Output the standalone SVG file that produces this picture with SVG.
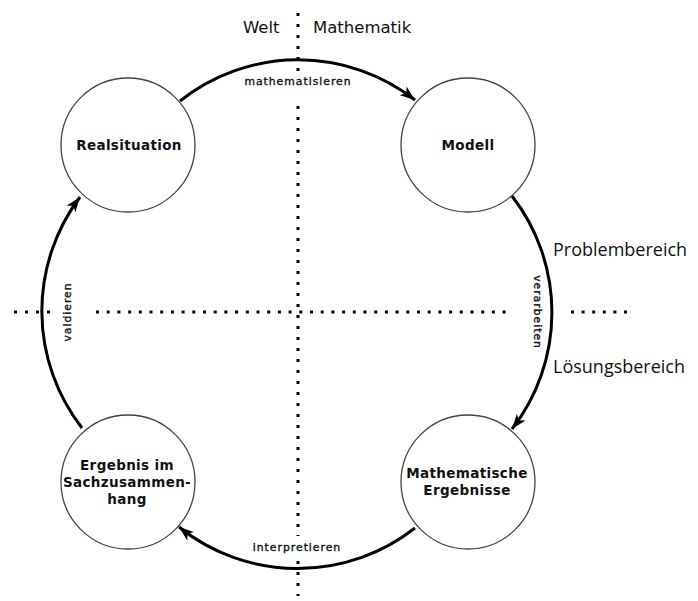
<svg xmlns="http://www.w3.org/2000/svg" width="698" height="601" viewBox="0 0 698 601">
<defs>
<style>
.node circle{fill:#fff;stroke:#444;stroke-width:1.3}
.node text{font-family:"DejaVu Sans",sans-serif;font-weight:bold;font-size:13.5px;letter-spacing:0.35px;fill:#111;text-anchor:middle}
.arc{fill:none;stroke:#000;stroke-width:3;marker-end:url(#ah)}
.dot{stroke:#000;stroke-width:3;stroke-dasharray:3 8}
.lbl{font-family:"DejaVu Sans",sans-serif;font-size:10.8px;letter-spacing:1px;fill:#111;stroke:#111;stroke-width:0.35;text-anchor:middle}
.big{font-family:"DejaVu Sans",sans-serif;font-size:16.5px;fill:#111}
.reg{font-family:"Open Sans",sans-serif;font-size:18px;fill:#111}
</style>
<marker id="ah" markerUnits="userSpaceOnUse" markerWidth="15" markerHeight="11" refX="15" refY="5.5" orient="auto">
<path d="M0,0 L15,5.5 L0,11 L4,5.5 z" fill="#000"/>
</marker>
</defs>
<rect width="698" height="601" fill="#fff"/>
<g id="axes">
<line class="dot" x1="298" y1="13" x2="298" y2="72"/>
<line class="dot" x1="298" y1="106" x2="298" y2="536"/>
<line class="dot" x1="298" y1="561" x2="298" y2="596"/>
<line class="dot" x1="14" y1="312" x2="51" y2="312"/>
<line class="dot" x1="96" y1="312" x2="510" y2="312" style="stroke-dasharray:3 7.7"/>
<line class="dot" x1="571" y1="312" x2="628" y2="312" style="stroke-dasharray:3 7.6"/>
<text class="big" x="243" y="33">Welt</text>
<text class="big" x="313" y="33">Mathematik</text>
<text class="reg" x="553" y="256">Problembereich</text>
<text class="reg" x="553" y="373">Lösungsbereich</text>
</g>
<g id="connectors">
<path class="arc" d="M180,101 A190,190 0 0,1 415,100"/>
<path class="arc" d="M512,196 A190,190 0 0,1 512,429"/>
<path class="arc" d="M415,528 A190,190 0 0,1 179,527"/>
<path class="arc" d="M82,428 A190,190 0 0,1 80,197"/>
<text class="lbl" x="298" y="85">mathematisieren</text>
<text class="lbl" x="297" y="551">interpretieren</text>
<text class="lbl" transform="translate(534,312) rotate(90)">verarbeiten</text>
<text class="lbl" transform="translate(71,312) rotate(-90)">valdieren</text>
</g>
<g id="realsituation" class="node">
<circle cx="128" cy="145" r="67"/>
<text x="129" y="150">Realsituation</text>
</g>
<g id="modell" class="node">
<circle cx="468" cy="145" r="67"/>
<text x="468" y="150">Modell</text>
</g>
<g id="mathematische-ergebnisse" class="node">
<circle cx="468" cy="482" r="67"/>
<text x="467" y="478">Mathematische</text>
<text x="467" y="495">Ergebnisse</text>
</g>
<g id="ergebnis-sachzusammenhang" class="node">
<circle cx="128" cy="482" r="67"/>
<text x="127" y="470">Ergebnis im</text>
<text x="127" y="487">Sachzusammen-</text>
<text x="127" y="504">hang</text>
</g>
</svg>
